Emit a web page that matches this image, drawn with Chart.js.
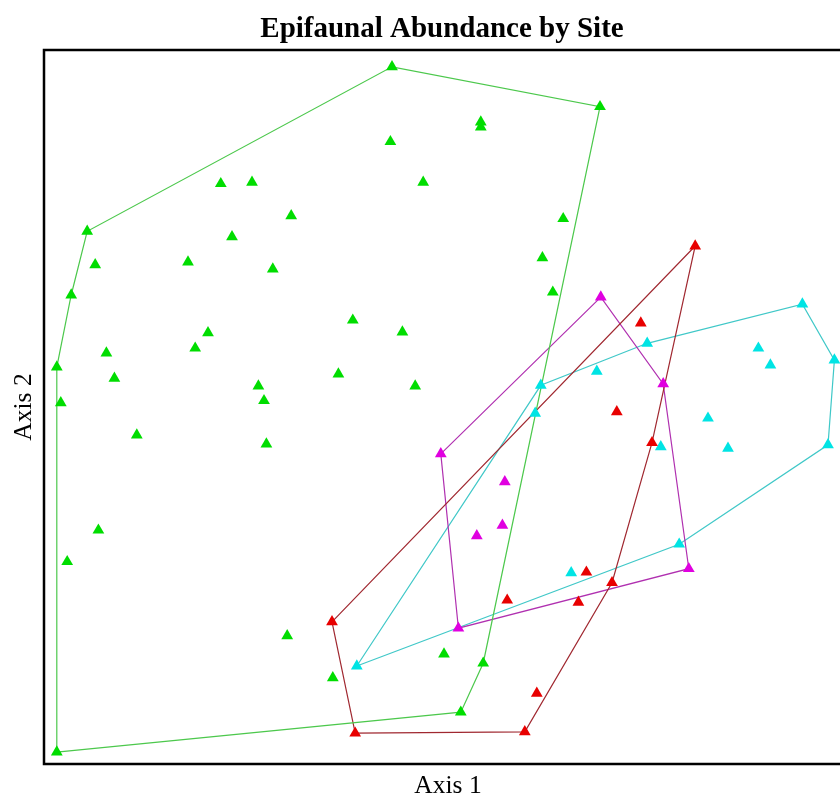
<!DOCTYPE html>
<html>
<head>
<meta charset="utf-8">
<title>Epifaunal Abundance by Site</title>
<script src="https://cdn.jsdelivr.net/npm/chart.js@4/dist/chart.umd.min.js"></script>
<style>
  html, body { margin: 0; padding: 0; background: #fff; overflow: hidden; }
  canvas { display: block; }
</style>
</head>
<body>
<canvas id="ordination" width="840" height="799"></canvas>
<script>
// ordination scores per site group (axis 1, axis 2)
var greenAxis1 = [43.5, 69.5, 54.6, 54.6, 43.3, 22.1, 26.0, 47.4, 30.9, 64.9, 5.4, 23.5, 6.4, 18.0, 28.6, 62.3, 3.4, 63.6, 38.6, 44.8,
                  20.5, 18.9, 7.8, 1.6, 8.8, 36.8, 26.8, 46.4, 2.1, 27.5, 11.6, 27.8, 6.8, 2.9, 30.4, 50.0, 54.9, 36.1, 52.1, 1.6];
var greenAxis2 = [99.6, 93.9, 91.7, 91.0, 88.9, 82.9, 83.1, 83.1, 78.3, 77.9, 76.1, 75.3, 71.3, 71.7, 70.7, 72.3, 67.0, 67.4, 63.4, 61.7,
                  61.6, 59.4, 58.7, 56.7, 55.1, 55.7, 54.0, 54.0, 51.6, 51.9, 47.0, 45.7, 33.4, 28.9, 18.3, 15.7, 14.4, 12.3, 7.4, 1.7];

var redAxis1 = [81.4, 74.6, 71.6, 76.0, 67.8, 71.0, 57.9, 66.8, 36.0, 61.6, 38.9, 60.1];
var redAxis2 = [74.0, 63.0, 50.3, 45.9, 27.4, 25.9, 23.4, 23.1, 20.3, 10.1, 4.4, 4.6];

var magentaAxis1 = [69.6, 77.4, 49.6, 57.6, 57.3, 54.1, 80.6, 51.8];
var magentaAxis2 = [66.7, 54.3, 44.3, 40.3, 34.1, 32.6, 27.9, 19.4];

var cyanAxis1 = [94.8, 98.8, 98.0, 79.4, 65.9, 39.1, 62.1, 75.4, 69.1, 89.3, 90.8, 61.4, 83.0, 77.1, 85.5];
var cyanAxis2 = [65.7, 57.7, 45.6, 31.4, 27.3, 14.0, 54.1, 60.1, 56.1, 59.4, 57.0, 50.1, 49.4, 45.3, 45.1];

function toPoints(xs, ys) {
    var pts = [];
    for (var i = 0; i < xs.length; i++) pts.push({x: xs[i], y: ys[i]});
    return pts;
}

// convex hull (monotone chain), returned closed so the line loops back
function hull(points) {
    var p = points.slice().sort(function (a, b) { return a.x - b.x || a.y - b.y; });
    function cross(o, a, b) { return (a.x - o.x) * (b.y - o.y) - (a.y - o.y) * (b.x - o.x); }
    var lower = [], upper = [];
    for (var i = 0; i < p.length; i++) {
        while (lower.length >= 2 && cross(lower[lower.length - 2], lower[lower.length - 1], p[i]) <= 0) lower.pop();
        lower.push(p[i]);
    }
    for (var j = p.length - 1; j >= 0; j--) {
        while (upper.length >= 2 && cross(upper[upper.length - 2], upper[upper.length - 1], p[j]) <= 0) upper.pop();
        upper.push(p[j]);
    }
    upper.pop(); lower.pop();
    var h = lower.concat(upper);
    h.push(h[0]);
    return h;
}

var groups = [
    {pts: toPoints(greenAxis1, greenAxis2), fill: '#00dd00', line: '#4cc84c'},
    {pts: toPoints(redAxis1, redAxis2), fill: '#e80000', line: '#a02830'},
    {pts: toPoints(magentaAxis1, magentaAxis2), fill: '#e000e0', line: '#b030b0'},
    {pts: toPoints(cyanAxis1, cyanAxis2), fill: '#00e4e4', line: '#40c8c8'}
];

var datasets = [];
groups.forEach(function (g) {
    datasets.push({
        type: 'line',
        data: hull(g.pts),
        borderColor: g.line,
        borderWidth: 1.2,
        pointRadius: 0,
        fill: false,
        tension: 0,
        order: 2
    });
});
groups.forEach(function (g) {
    datasets.push({
        type: 'scatter',
        data: g.pts,
        pointStyle: 'triangle',
        pointRadius: 6.8,
        backgroundColor: g.fill,
        borderColor: g.fill,
        borderWidth: 0,
        order: 1
    });
});

// black frame on three sides plus the axis captions
var frame = {
    id: 'frame',
    afterDraw: function (chart) {
        var a = chart.chartArea, c = chart.ctx;
        c.save();
        c.strokeStyle = '#000';
        c.lineWidth = 2.5;
        c.beginPath();
        c.moveTo(chart.width + 2, a.top);
        c.lineTo(a.left, a.top);
        c.lineTo(a.left, a.bottom);
        c.lineTo(chart.width + 2, a.bottom);
        c.stroke();
        c.fillStyle = '#000';
        c.font = '25.5px "Liberation Serif", "Times New Roman", serif';
        c.textAlign = 'center';
        c.textBaseline = 'middle';
        c.fillText('Axis 1', 448, 786);
        c.translate(24, (a.top + a.bottom) / 2);
        c.rotate(-Math.PI / 2);
        c.fillText('Axis 2', 0, 0);
        c.restore();
    }
};

new Chart(document.getElementById('ordination'), {
    type: 'scatter',
    data: {datasets: datasets},
    options: {
        responsive: false,
        animation: false,
        layout: {autoPadding: false, padding: {left: 44, right: 0, top: 0, bottom: 35}},
        plugins: {
            legend: {display: false},
            tooltip: {enabled: false},
            title: {
                display: true,
                text: 'Epifaunal Abundance by Site',
                color: '#000',
                font: {family: '"Liberation Serif", "Times New Roman", serif', size: 29, weight: 'bold', lineHeight: 1.2},
                padding: {top: 12, bottom: 3.2}
            }
        },
        scales: {
            x: {type: 'linear', display: false, min: 0, max: 99.5},
            y: {type: 'linear', display: false, min: 0, max: 102}
        }
    },
    plugins: [frame]
});
</script>
</body>
</html>
